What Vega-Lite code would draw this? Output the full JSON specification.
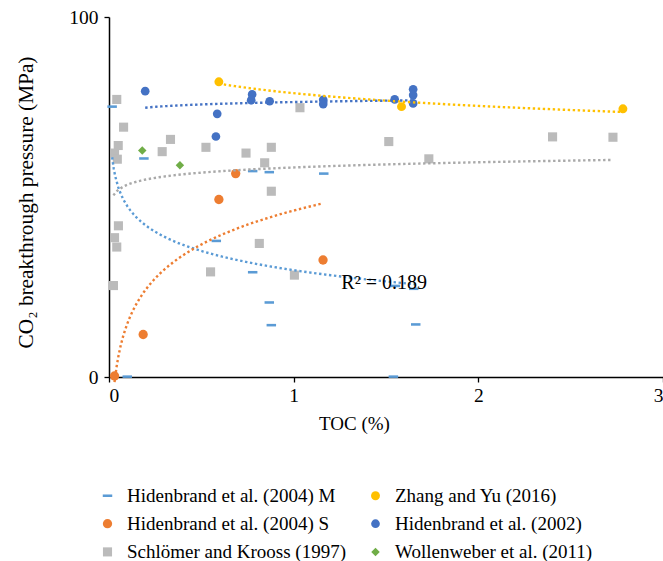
{
  "$schema": "https://vega.github.io/schema/vega-lite/v6.json",
  "autosize": {"type": "none"},
  "width": 554,
  "height": 360,
  "padding": {"left": 109, "top": 17, "right": 0, "bottom": 184},
  "background": "white",
  "config": {
    "view": {"stroke": null},
    "font": "Liberation Serif",
    "axis": {
      "grid": false,
      "domainColor": "#000000",
      "domainWidth": 1.5,
      "tickColor": "#000000",
      "tickWidth": 1.3,
      "tickSize": 5,
      "labelFont": "Liberation Serif",
      "labelFontSize": 19.5,
      "labelColor": "#000000",
      "titleFont": "Liberation Serif",
      "titleFontWeight": "normal",
      "titleColor": "#000000"
    }
  },
  "datasets": {
    "toc": [
      {"series": "Hidenbrand et al. (2004) M", "toc": 0.017, "pressure": 75.1},
      {"series": "Hidenbrand et al. (2004) M", "toc": 0.099, "pressure": 0.1},
      {"series": "Hidenbrand et al. (2004) M", "toc": 0.189, "pressure": 60.7},
      {"series": "Hidenbrand et al. (2004) M", "toc": 0.581, "pressure": 37.8},
      {"series": "Hidenbrand et al. (2004) M", "toc": 0.778, "pressure": 57.2},
      {"series": "Hidenbrand et al. (2004) M", "toc": 0.778, "pressure": 29.1},
      {"series": "Hidenbrand et al. (2004) M", "toc": 0.868, "pressure": 56.9},
      {"series": "Hidenbrand et al. (2004) M", "toc": 0.868, "pressure": 20.7},
      {"series": "Hidenbrand et al. (2004) M", "toc": 0.879, "pressure": 14.4},
      {"series": "Hidenbrand et al. (2004) M", "toc": 1.163, "pressure": 56.5},
      {"series": "Hidenbrand et al. (2004) M", "toc": 1.540, "pressure": 0.1},
      {"series": "Hidenbrand et al. (2004) M", "toc": 1.551, "pressure": 25.3},
      {"series": "Hidenbrand et al. (2004) M", "toc": 1.650, "pressure": 24.5},
      {"series": "Hidenbrand et al. (2004) M", "toc": 1.661, "pressure": 14.6},
      {"series": "Hidenbrand et al. (2004) S", "toc": 0.030, "pressure": 0.3},
      {"series": "Hidenbrand et al. (2004) S", "toc": 0.185, "pressure": 11.8},
      {"series": "Hidenbrand et al. (2004) S", "toc": 0.595, "pressure": 49.3},
      {"series": "Hidenbrand et al. (2004) S", "toc": 0.686, "pressure": 56.5},
      {"series": "Hidenbrand et al. (2004) S", "toc": 1.159, "pressure": 32.5},
      {"series": "Schlömer and Krooss (1997)", "toc": 0.042, "pressure": 77.1},
      {"series": "Schlömer and Krooss (1997)", "toc": 0.079, "pressure": 69.4},
      {"series": "Schlömer and Krooss (1997)", "toc": 0.050, "pressure": 64.3},
      {"series": "Schlömer and Krooss (1997)", "toc": 0.030, "pressure": 62.2},
      {"series": "Schlömer and Krooss (1997)", "toc": 0.045, "pressure": 60.5},
      {"series": "Schlömer and Krooss (1997)", "toc": 0.333, "pressure": 66.0},
      {"series": "Schlömer and Krooss (1997)", "toc": 0.288, "pressure": 62.6},
      {"series": "Schlömer and Krooss (1997)", "toc": 0.525, "pressure": 63.8},
      {"series": "Schlömer and Krooss (1997)", "toc": 0.742, "pressure": 62.2},
      {"series": "Schlömer and Krooss (1997)", "toc": 0.879, "pressure": 63.8},
      {"series": "Schlömer and Krooss (1997)", "toc": 0.843, "pressure": 59.5},
      {"series": "Schlömer and Krooss (1997)", "toc": 0.879, "pressure": 51.6},
      {"series": "Schlömer and Krooss (1997)", "toc": 1.034, "pressure": 74.8},
      {"series": "Schlömer and Krooss (1997)", "toc": 0.051, "pressure": 42.0},
      {"series": "Schlömer and Krooss (1997)", "toc": 0.030, "pressure": 38.7},
      {"series": "Schlömer and Krooss (1997)", "toc": 0.042, "pressure": 36.1},
      {"series": "Schlömer and Krooss (1997)", "toc": 0.024, "pressure": 25.4},
      {"series": "Schlömer and Krooss (1997)", "toc": 0.550, "pressure": 29.2},
      {"series": "Schlömer and Krooss (1997)", "toc": 0.814, "pressure": 37.1},
      {"series": "Schlömer and Krooss (1997)", "toc": 1.004, "pressure": 28.3},
      {"series": "Schlömer and Krooss (1997)", "toc": 1.515, "pressure": 65.4},
      {"series": "Schlömer and Krooss (1997)", "toc": 1.732, "pressure": 60.6},
      {"series": "Schlömer and Krooss (1997)", "toc": 2.402, "pressure": 66.7},
      {"series": "Schlömer and Krooss (1997)", "toc": 2.729, "pressure": 66.6},
      {"series": "Zhang and Yu (2016)", "toc": 0.595, "pressure": 82.0},
      {"series": "Zhang and Yu (2016)", "toc": 1.584, "pressure": 75.1},
      {"series": "Zhang and Yu (2016)", "toc": 2.783, "pressure": 74.5},
      {"series": "Hidenbrand et al. (2002)", "toc": 0.196, "pressure": 79.4},
      {"series": "Hidenbrand et al. (2002)", "toc": 0.586, "pressure": 73.1},
      {"series": "Hidenbrand et al. (2002)", "toc": 0.579, "pressure": 66.8},
      {"series": "Hidenbrand et al. (2002)", "toc": 0.775, "pressure": 78.5},
      {"series": "Hidenbrand et al. (2002)", "toc": 0.770, "pressure": 76.9},
      {"series": "Hidenbrand et al. (2002)", "toc": 0.870, "pressure": 76.6},
      {"series": "Hidenbrand et al. (2002)", "toc": 1.160, "pressure": 77.0},
      {"series": "Hidenbrand et al. (2002)", "toc": 1.160, "pressure": 75.8},
      {"series": "Hidenbrand et al. (2002)", "toc": 1.547, "pressure": 77.1},
      {"series": "Hidenbrand et al. (2002)", "toc": 1.647, "pressure": 79.9},
      {"series": "Hidenbrand et al. (2002)", "toc": 1.647, "pressure": 78.3},
      {"series": "Hidenbrand et al. (2002)", "toc": 1.647, "pressure": 76.0},
      {"series": "Wollenweber et al. (2011)", "toc": 0.180, "pressure": 62.9},
      {"series": "Wollenweber et al. (2011)", "toc": 0.384, "pressure": 58.8}
    ],
    "fitLabel": [
      {"toc": 1.258, "pressure": 26.1, "label": "R² = 0.189"}
    ]
  },
  "layer": [
    {
      "data": {"name": "toc"},
      "mark": {"type": "point", "filled": true, "opacity": 1, "strokeWidth": 0},
      "encoding": {
        "x": {
          "field": "toc", "type": "quantitative",
          "scale": {"domain": [0, 3], "nice": false, "zero": true},
          "axis": {
            "values": [0, 1, 2, 3], "format": "d", "labelPadding": 4,
            "title": "TOC (%)", "titleFontSize": 19, "titleX": 245, "titleY": 46,
            "titleBaseline": "middle", "titleAnchor": null, "titleAlign": "center"
          }
        },
        "y": {
          "field": "pressure", "type": "quantitative",
          "scale": {"domain": [0, 100], "nice": false},
          "axis": {
            "values": [0, 100], "format": "d", "labelPadding": 6,
            "title": "CO₂ breakthrough pressure (MPa)", "titleFontSize": 21.3,
            "titleX": -82.5, "titleY": 185, "titleAngle": -90,
            "titleBaseline": "middle", "titleAlign": "center"
          }
        },
        "color": {
          "field": "series", "type": "nominal",
          "scale": {
            "domain": ["Hidenbrand et al. (2004) M", "Hidenbrand et al. (2004) S", "Schlömer and Krooss (1997)", "Zhang and Yu (2016)", "Hidenbrand et al. (2002)", "Wollenweber et al. (2011)"],
            "range": ["#5B9BD5", "#ED7D31", "#BBBBBB", "#FFC000", "#4472C4", "#70AD47"]
          },
          "legend": {
            "title": null,
            "orient": "none",
            "legendX": -11,
            "legendY": 469,
            "columns": 2,
            "columnPadding": 20,
            "rowPadding": 8.2,
            "padding": 0,
            "labelFont": "Liberation Serif",
            "labelFontSize": 19,
            "labelColor": "#000000",
            "labelLimit": 0,
            "labelOffset": 10,
            "symbolSize": 50,
            "symbolStrokeWidth": 0
          }
        },
        "shape": {
          "field": "series", "type": "nominal",
          "scale": {
            "domain": ["Hidenbrand et al. (2004) M", "Hidenbrand et al. (2004) S", "Schlömer and Krooss (1997)", "Zhang and Yu (2016)", "Hidenbrand et al. (2002)", "Wollenweber et al. (2011)"],
            "range": ["M-1,-0.27L1,-0.27L1,0.27L-1,0.27Z", "circle", "square", "circle", "circle", "diamond"]
          },
          "legend": {
            "title": null,
            "orient": "none",
            "legendX": -11,
            "legendY": 469,
            "columns": 2,
            "columnPadding": 20,
            "rowPadding": 8.2,
            "padding": 0,
            "labelFont": "Liberation Serif",
            "labelFontSize": 19,
            "labelColor": "#000000",
            "labelLimit": 0,
            "labelOffset": 10,
            "symbolSize": 50,
            "symbolStrokeWidth": 0
          }
        },
        "size": {
          "field": "series", "type": "nominal",
          "scale": {
            "domain": ["Hidenbrand et al. (2004) M", "Hidenbrand et al. (2004) S", "Schlömer and Krooss (1997)", "Zhang and Yu (2016)", "Hidenbrand et al. (2002)", "Wollenweber et al. (2011)"],
            "range": [90, 72, 96, 72, 72, 70]
          },
          "legend": null
        }
      }
    },
    {
      "data": {"name": "toc"},
      "transform": [
        {"filter": "datum.series !== 'Wollenweber et al. (2011)'"},
        {"regression": "pressure", "on": "toc", "method": "log", "groupby": ["series"]}
      ],
      "mark": {"type": "line", "strokeWidth": 2.4, "strokeDash": [2.4, 2.6], "clip": false},
      "encoding": {
        "x": {"field": "toc", "type": "quantitative"},
        "y": {"field": "pressure", "type": "quantitative"},
        "detail": {"field": "series"},
        "stroke": {
          "field": "series", "type": "nominal",
          "scale": {
            "domain": ["Hidenbrand et al. (2004) M", "Hidenbrand et al. (2004) S", "Schlömer and Krooss (1997)", "Zhang and Yu (2016)", "Hidenbrand et al. (2002)"],
            "range": ["#5B9BD5", "#ED7D31", "#A9A9A9", "#FFC000", "#4472C4"]
          },
          "legend": null
        }
      }
    },
    {
      "data": {"name": "fitLabel"},
      "mark": {"type": "text", "align": "left", "baseline": "middle", "font": "Liberation Serif", "fontSize": 20, "color": "#000000"},
      "encoding": {
        "x": {"field": "toc", "type": "quantitative"},
        "y": {"field": "pressure", "type": "quantitative"},
        "text": {"field": "label"}
      }
    }
  ]
}
